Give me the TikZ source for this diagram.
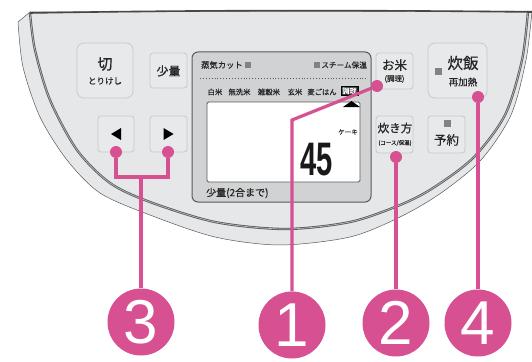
\documentclass[tikz,border=0pt]{standalone}
\usepackage{fontspec}
\setmainfont{Noto Sans CJK JP}[FakeBold=0.6]
\newfontfamily\numfont{Liberation Sans}
\usetikzlibrary{calc,positioning}
\definecolor{panelgray}{HTML}{E6E7E8}
\definecolor{btnfill}{HTML}{E8E9EA}
\definecolor{btnline}{HTML}{C8C9CB}
\definecolor{framegray}{HTML}{D1D2D4}
\definecolor{edgegray}{HTML}{58595B}
\definecolor{lampgray}{HTML}{808285}
\definecolor{calloutpink}{RGB}{215,80,145}

\begin{document}
\begin{tikzpicture}[x=1pt, y=-1pt,
  btn/.style={draw=btnline, fill=btnfill, line width=0.8pt, rounded corners=5pt, inner sep=0pt},
  jp/.style={font=\fontsize{#1}{#1}\selectfont, inner sep=0pt, text=black!85},
  lamp/.style={fill=lampgray, minimum size=#1, inner sep=0pt},
  lamp/.default=6pt,
  dot/.style={circle, fill=calloutpink, minimum size=12pt, inner sep=0pt},
  num/.style={circle, fill=calloutpink, text=white, minimum size=67pt, inner sep=0pt,
    font=\numfont\fontsize{62}{62}\selectfont},
  callout/.style={draw=calloutpink, line width=3.2pt}
]
\useasboundingbox (0,0) rectangle (532,361);

% panel body
\filldraw[fill=panelgray, draw=edgegray, line width=0.5pt]
  (18,22) -- (30,12) -- (532,11) -- plot[smooth] coordinates {(532,11) (526,60) (511,115) (481,160)
  (441,193) (400,217) (350,237) (280,245) (215,237) (150,215) (100,193) (67,160) (40,117) (23,67) (18,22)}
  -- cycle;
\draw[edgegray, line width=0.8pt, double=gray!55, double distance=0.7pt]
  plot[smooth] coordinates {(30,13) (35,50) (50,100) (77,150) (110,183) (150,202) (215,222)
  (285,229) (350,222) (400,205) (433,188) (473,158) (505,115) (522,60) (528,11)};
\draw[edgegray!80!black, line width=1.6pt] (30,13) .. controls (200,10) and (360,10) .. (532,12);

% buttons
\node[btn, minimum width=56pt, minimum height=55pt, rounded corners=7pt] (kiri) at (105,70.5) {};
\node[jp=15] at (105,64) {切};
\node[jp=8.5] at (105,81) {とりけし};
\node[btn, minimum width=37pt, minimum height=35pt, rounded corners=3pt] (shoryo) at (168.5,70.5) {};
\node[jp=12] at (168.5,71) {少量};
\node[btn, minimum width=36pt, minimum height=36pt, rounded corners=3pt] (larr) at (116,134) {};
\node[btn, minimum width=37pt, minimum height=36pt, rounded corners=3pt] (rarr) at (168.5,134) {};
\fill ([xshift=-5pt]larr.center) -- ++(10,-6) -- ++(0,12) -- cycle;
\fill ([xshift=5pt]rarr.center) -- ++(-10,-6) -- ++(0,12) -- cycle;

\node[btn, minimum width=37pt, minimum height=36pt, rounded corners=3pt] (okome) at (394.5,71) {};
\node[jp=12.5] at (394.5,65) {お米};
\node[jp=7.5] at (394.5,79) {(調理)};
\node[btn, minimum width=59pt, minimum height=55pt, rounded corners=7pt] (suihan) at (457.5,70.5) {};
\node[lamp=7pt] at (438,71) {};
\node[jp=15.5] at (463,63) {炊飯};
\node[jp=9.5] at (463,82) {再加熱};
\node[btn, minimum width=37pt, minimum height=37pt, rounded corners=3pt] (takikata) at (394.5,134.5) {};
\node[jp=11.5] at (395,128) {炊き方};
\node[jp=5.5] at (395,143) {(コース/保温)};
\node[btn, minimum width=37pt, minimum height=37pt, rounded corners=3pt] (yoyaku) at (446.5,134.5) {};
\node[lamp=7pt] at (447,123) {};
\node[jp=12.5] at (446.5,140) {予約};

% display
\node[draw=edgegray, fill=framegray, line width=1pt, rounded corners=6pt,
  minimum width=179pt, minimum height=150pt] (frame) at (281.5,127) {};
\node[jp=8.3, anchor=west] (steamcut) at (201,65) {蒸気カット};
\node[lamp, right=1.5pt of steamcut] {};
\node[jp=7.6, anchor=east] (steamkeep) at (367,65) {スチーム保温};
\node[lamp, left=1.5pt of steamkeep] {};
\draw[edgegray, line width=0.9pt, dotted] (200,78) -- (366,78);
\node[jp=7.3] at (215,92) {白米};
\node[jp=7.3] at (239.5,92) {無洗米};
\node[jp=7.3] at (269,92) {雑穀米};
\node[jp=7.3] at (295,92) {玄米};
\node[jp=7.3] at (322,92) {麦ごはん};
\node[jp=7.3, fill=black!85, text=white, draw=black, inner sep=1.2pt] at (349.5,91) {調理};
\node[draw=edgegray, fill=white, line width=0.8pt, rounded corners=1.5pt,
  minimum width=153pt, minimum height=80pt] (lcd) at (283.5,142) {};
\fill (343,107) -- (360,107) -- (351.5,101) -- cycle;
\node[jp=6.5] at (348,132) {ケーキ};
\node[font=\numfont\bfseries\fontsize{47}{47}\selectfont, xscale=0.62, inner sep=0pt, text=black!90] (digits) at (316.5,160) {45};
\node[jp=10, anchor=west] at (206,193) {少量(2合まで)};

% callouts
\node[dot] (d1) at (377,86) {};
\node[dot] (d3l) at (116,152) {};
\node[dot] (d3r) at (168,152) {};
\node[dot] (d2) at (396,157) {};
\node[dot] (d4) at (478,97) {};
\coordinate (k1) at (292,120);
\coordinate (k3) at (141,177);
\node[num] (n3) at (141,322) {3};
\node[num] (n1) at (292,325) {1};
\node[num] (n2) at (396,323) {2};
\node[num] (n4) at (478,323) {4};
\draw[callout] (d1) -- (k1) -- (n1);
\draw[callout] (d3l) |- (k3) -| (d3r);
\draw[callout] (k3) -- (n3);
\draw[callout] (d2) -- (n2);
\draw[callout] (d4) -- (n4);
\end{tikzpicture}
\end{document}
